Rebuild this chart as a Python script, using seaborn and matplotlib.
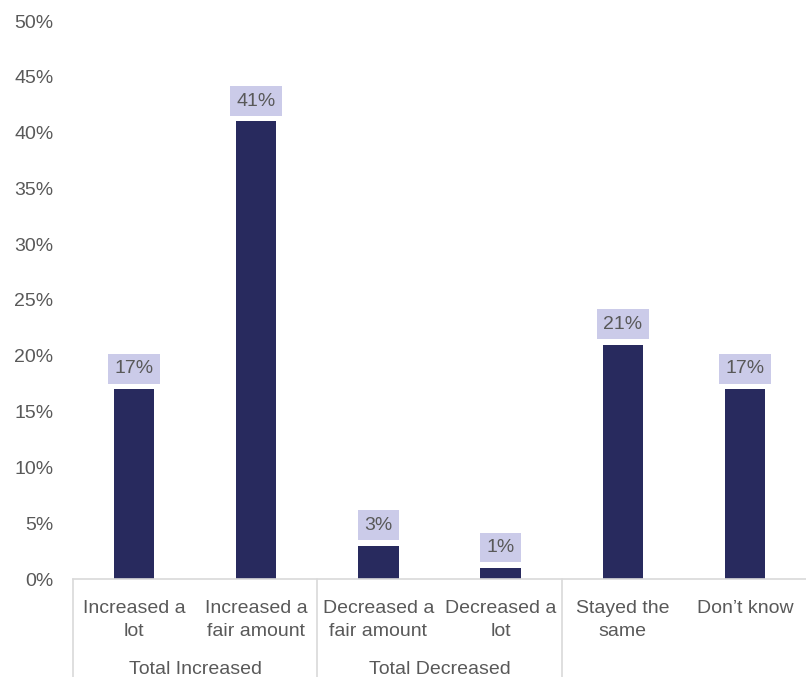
import matplotlib
matplotlib.use("Agg")
import matplotlib.pyplot as plt
import matplotlib.transforms as mtransforms
import seaborn as sns
import pandas as pd

categories = ["Increased a\nlot", "Increased a\nfair amount", "Decreased a\nfair amount",
              "Decreased a\nlot", "Stayed the\nsame", "Don\u2019t know"]
values = [17, 41, 3, 1, 21, 17]
group_labels = ["Total Increased", "Total Decreased"]
group_centers = [0.5, 2.5]
separators = [-0.5, 1.5, 3.5]
yticks = [0, 5, 10, 15, 20, 25, 30, 35, 40, 45, 50]

sns.set_theme(style="white")
plt.rcParams['font.family'] = ['Liberation Sans', 'DejaVu Sans']

text_color = "#595959"
bar_color = "#282a5e"
box_color = "#cbcbe9"
line_color = "#d9d9d9"
fs = 14

df = pd.DataFrame({"cat": categories, "val": values})

fig = plt.figure(figsize=(8.06, 6.77), dpi=100)
ax = fig.add_axes([73/806, 1 - 579/677, (806 - 73)/806, (579 - 21)/677])

sns.barplot(data=df, x="cat", y="val", color=bar_color, width=0.33, ax=ax,
            saturation=1, edgecolor="none")

ax.set_xlim(-0.5, 5.5)
ax.set_ylim(0, 50)
ax.set_yticks(yticks)
ax.set_yticklabels([f"{t}%" for t in yticks], fontsize=fs, color=text_color)
ax.set_xticks(range(len(categories)))
ax.set_xticklabels(categories, fontsize=fs, color=text_color, linespacing=1.5)
ax.tick_params(axis="x", length=0, pad=15)
ax.tick_params(axis="y", length=0, pad=14)
ax.set_xlabel("")
ax.set_ylabel("")

for s in ["top", "right", "left"]:
    ax.spines[s].set_visible(False)
ax.spines["bottom"].set_color(line_color)
ax.spines["bottom"].set_linewidth(1.2)

for cont in ax.containers:
    ax.bar_label(cont, labels=[f"{v}%" for v in values], padding=8.5, fontsize=fs,
                 color=text_color,
                 bbox=dict(boxstyle="square,pad=0.33", fc=box_color, ec="none"))

trans = mtransforms.blended_transform_factory(ax.transData, ax.transAxes)
bottom = -(677 - 579) / (579 - 21)
for sx in separators:
    ax.plot([sx, sx], [0, bottom], transform=trans, color=line_color, lw=1.2, clip_on=False)

for gx, gl in zip(group_centers, group_labels):
    ax.text(gx, -(669 - 579) / (579 - 21), gl, transform=trans, ha="center", va="center",
            fontsize=fs, color=text_color)

fig.savefig("out.png", dpi=100)
